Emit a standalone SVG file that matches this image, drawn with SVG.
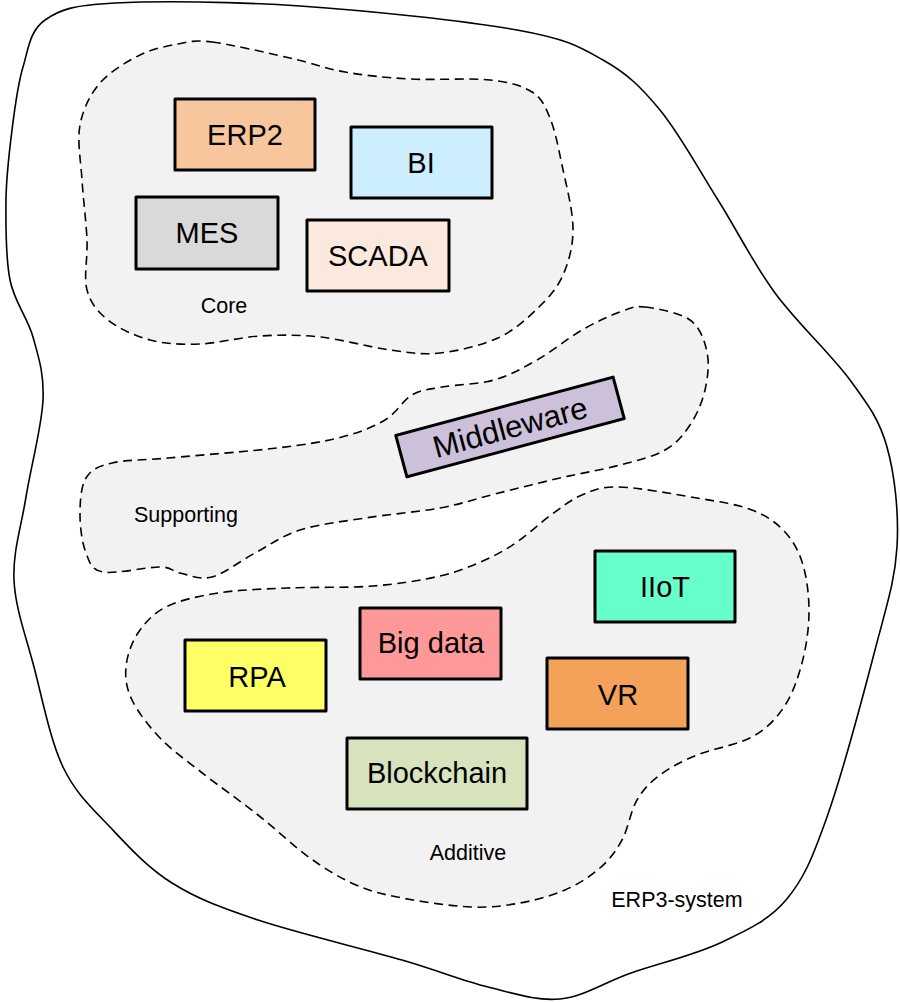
<svg xmlns="http://www.w3.org/2000/svg" width="900" height="1002" viewBox="0 0 900 1002">
  <style>
    .region { fill: #f2f2f2; stroke: #000; stroke-width: 1.6; stroke-dasharray: 9 5.5; }
    .outline { fill: none; stroke: #000; stroke-width: 1.6; }
    .box { stroke: #000; stroke-width: 3; stroke-linejoin: round; }
    .lbl { font-family: "Liberation Sans", Arial, sans-serif; font-size: 29px; fill: #000; text-anchor: middle; }
    .cap { font-family: "Liberation Sans", Arial, sans-serif; font-size: 21.5px; fill: #000; text-anchor: middle; }
  </style>

  <rect width="900" height="1002" fill="#fff"/>

  <!-- ERP3 system boundary -->
  <g id="erp3-system">
    <path class="outline" d="M 45,20 C 60.3,9.3 72.5,5.3 115,3 C 157.5,0.7 233,1.5 300,6 C 367,10.5 466.5,21 517,30 C 567.5,39 579.2,46.7 603,60 C 626.8,73.3 640.8,86.7 660,110 C 679.2,133.3 698.8,169.5 718,200 C 737.2,230.5 753,263 775,293 C 797,323 831.3,354.3 850,380 C 868.7,405.7 879.2,419.2 887,447 C 894.8,474.8 899,513.2 897,547 C 895,580.8 886.7,605 875,650 C 863.3,695 841.8,775.3 827,817 C 812.2,858.7 803.8,879 786,900 C 768.2,921 745.8,930.8 720,943 C 694.2,955.2 657.7,963.7 631,973 C 604.3,982.3 583.8,996.7 560,999 C 536.2,1001.3 514.3,993.5 488,987 C 461.7,980.5 440.3,971.2 402,960 C 363.7,948.8 296.3,932.8 258,920 C 219.7,907.2 196.7,898.5 172,883 C 147.3,867.5 128.2,846.3 110,827 C 91.8,807.7 75.7,793.7 63,767 C 50.3,740.3 42.2,698.2 34,667 C 25.8,635.8 15.3,608.3 14,580 C 12.7,551.7 21.2,527 26,497 C 30.8,467 41.8,426.7 43,400 C 44.2,373.3 38.5,357 33,337 C 27.5,317 14.5,302.8 10,280 C 5.5,257.2 5.7,225 6,200 C 6.3,175 9.2,152.2 12,130 C 14.8,107.8 17.5,85.3 23,67 C 28.5,48.7 29.7,30.7 45,20 Z"/>
    <text class="cap" x="677" y="907">ERP3-system</text>
  </g>

  <!-- Layer regions -->
  <g id="core">
    <path class="region" d="M 212,42 C 230.7,44.3 267.8,53 290,58 S 325,68.5 345,72 S 385.8,77.7 410,79 S 469.7,77.8 490,80 S 522,85.7 532,92 S 545,105.8 550,118 S 558.2,146.7 562,165 S 572.8,209.7 573,228 S 568.8,261.7 563,275 S 548.8,297.5 538,308 S 514.3,330.5 498,338 S 458,351 440,353 S 410,352.7 390,350 S 341.7,339.3 320,337 S 280,334.8 260,336 S 218.3,343.3 200,344 S 165.3,344 150,340 S 118.5,328.3 108,320 S 90.5,303.3 87,290 S 87.8,258.3 87,240 S 83.2,199.2 82,180 S 77,141.2 80,125 S 90,94.7 100,83 S 127,61.5 140,55 S 166,46.2 178,44 S 193.3,39.7 212,42 Z"/>
    <text class="cap" x="224" y="313">Core</text>
  </g>

  <g id="supporting">
    <path class="region" d="M 645,307 C 656.7,308.3 679.7,312.5 690,320 S 704.5,340.3 707,352 S 707.8,377.8 705,390 S 696.7,415 690,425 S 676.7,443.3 665,450 S 637.5,460.3 620,465 S 580.8,473.2 560,478 S 515,489 495,494 S 461.7,504 440,508 S 388.3,514.3 365,518 S 318.3,524.2 300,530 S 269.7,545.2 255,553 S 224.5,573.7 212,577 S 188.7,574.7 180,573 S 172.8,567.2 160,567 S 115.3,574.3 103,572 S 89.8,562.5 86,553 S 80,527.5 80,515 S 80.7,486.7 86,478 S 98.3,466.3 112,463 S 140.5,460.5 168,458 S 248,451.5 277,448 S 324,441.7 342,437 S 373.3,427 385,420 S 402.5,400.5 412,395 S 428.3,389.5 442,387 S 478.2,384.5 494,380 S 522.3,368.3 537,360 S 568.2,338 582,330 S 609.5,315.8 620,312 S 633.3,305.7 645,307 Z"/>
    <text class="cap" x="186" y="522">Supporting</text>
  </g>

  <g id="additive">
    <path class="region" d="M 619,487 C 638.2,487.5 674.8,494.2 697,498 S 737.3,504.3 752,510 S 776.5,522.8 785,532 S 799,551.5 803,565 S 809.2,596.7 809,613 S 806.2,647.3 802,663 S 792.3,694.7 784,707 S 766.5,729 752,737 S 712.3,748.7 697,755 S 670,767.5 660,775 S 643.3,789.2 637,800 S 628.2,828.7 622,840 S 609.5,859.7 600,868 S 578.3,884.2 565,890 S 535.7,900.2 520,903 S 490.7,907.8 471,907 S 421.2,901.7 402,898 S 371.3,891.7 356,885 S 326.3,869.7 310,858 S 276.2,829.3 258,815 S 217.3,784.8 201,772 S 171.5,750 160,738 S 137.7,711.8 132,700 S 125,678.2 126,667 S 131.3,643 138,633 S 152.7,613.7 166,607 S 197.8,596.2 218,593 S 261.2,589.2 287,588 S 347.5,588 373,586 S 421.3,580.3 440,576 S 472.2,565.7 485,560 S 506,549.5 517,542 S 540.2,522.8 551,515 S 570.7,499.7 582,495 S 599.8,486.5 619,487 Z"/>
    <text class="cap" x="468" y="860">Additive</text>
  </g>

  <!-- System nodes -->
  <g id="erp2">
    <rect class="box" x="175" y="99" width="140" height="71" fill="#f8c69c"/>
    <text class="lbl" x="245" y="145">ERP2</text>
  </g>
  <g id="bi">
    <rect class="box" x="351" y="127" width="141" height="71" fill="#cdeeff"/>
    <text class="lbl" x="421" y="173">BI</text>
  </g>
  <g id="mes">
    <rect class="box" x="136" y="197" width="142" height="72" fill="#d9d9d9"/>
    <text class="lbl" x="207" y="243">MES</text>
  </g>
  <g id="scada">
    <rect class="box" x="307" y="220" width="142" height="71" fill="#fbe9dd"/>
    <text class="lbl" x="378" y="266">SCADA</text>
  </g>
  <g id="middleware" transform="translate(510,427) rotate(-15)">
    <rect class="box" x="-112.5" y="-21.5" width="225" height="43" fill="#ccc0da"/>
    <text class="lbl" x="0" y="11" style="font-size:31px">Middleware</text>
  </g>
  <g id="iiot">
    <rect class="box" x="595" y="551" width="140" height="71" fill="#66ffcc"/>
    <text class="lbl" x="665" y="597">IIoT</text>
  </g>
  <g id="big-data">
    <rect class="box" x="360" y="608" width="141" height="71" fill="#ff9999"/>
    <text class="lbl" x="431" y="653">Big data</text>
  </g>
  <g id="rpa">
    <rect class="box" x="185" y="640" width="141" height="71" fill="#ffff66"/>
    <text class="lbl" x="257" y="687">RPA</text>
  </g>
  <g id="vr">
    <rect class="box" x="547" y="658" width="141" height="71" fill="#f4a15a"/>
    <text class="lbl" x="618" y="705">VR</text>
  </g>
  <g id="blockchain">
    <rect class="box" x="347" y="738" width="180" height="71" fill="#d7e3bd"/>
    <text class="lbl" x="437" y="783">Blockchain</text>
  </g>
</svg>
